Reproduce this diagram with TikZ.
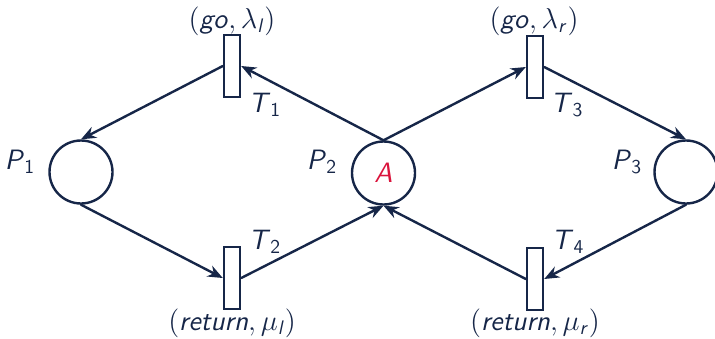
\documentclass[tikz,border=0pt]{standalone}
\usepackage{amsmath}
\usepackage{fontspec}
\usetikzlibrary{arrows.meta}
\definecolor{navy}{RGB}{22,38,72}
\definecolor{redA}{RGB}{218,20,60}
\newcommand{\mv}[1]{\textsf{\textsl{#1}}}
\newcommand{\msub}[2]{\text{\mv{#1}}_{\text{\sffamily #2}}}
\begin{document}
\begin{tikzpicture}[x=0.5pt,y=-0.5pt,
  every node/.style={text=navy, font=\fontsize{14}{16}\selectfont},
  place/.style={circle,draw=navy,line width=1.2pt,minimum size=31.5pt,inner sep=0pt},
  trans/.style={rectangle,draw=navy,line width=1.2pt,minimum width=8pt,minimum height=31pt,inner sep=0pt},
  arc/.style={draw=navy,line width=1.2pt,line cap=round,-{Stealth[length=7.5pt,width=6pt]}},
  lab/.style={inner sep=0pt}]
\useasboundingbox (0,0) rectangle (715,338);
% places
\node[place] (P1) at (81,172) {};
\node[place] (P2) at (383.5,173) {\color{redA}\mv{A}};
\node[place] (P3) at (686,172) {};
% transitions
\node[trans] (T1) at (232,66) {};
\node[trans] (T3) at (535,67) {};
\node[trans] (T2) at (232,278) {};
\node[trans] (T4) at (535,279) {};
% labels
\node[lab] (lP1) at (20,162) {$\msub{P}{1}$};
\node[lab] (lP2) at (322,162) {$\msub{P}{2}$};
\node[lab] (lP3) at (627,162) {$\msub{P}{3}$};
\node[lab] (lT1) at (265,105) {$\msub{T}{1}$};
\node[lab] (lT3) at (567,105) {$\msub{T}{3}$};
\node[lab] (lT2) at (265,242) {$\msub{T}{2}$};
\node[lab] (lT4) at (568,242) {$\msub{T}{4}$};
\node[lab] (gl) at (232,21) {$(\text{\mv{go}},\lambda_{\text{\mv{l}}})$};
\node[lab] (gr) at (534,21) {$(\text{\mv{go}},\lambda_{\text{\mv{r}}})$};
\node[lab] (rl) at (232,323) {$(\text{\mv{return}},\mu_{\text{\mv{l}}})$};
\node[lab] (rr) at (535,323) {$(\text{\mv{return}},\mu_{\text{\mv{r}}})$};
% arcs
\draw[arc] (P2.north) -- (T1.east);
\draw[arc] (T1.west) -- (P1.north);
\draw[arc] (P1.south) -- (T2.west);
\draw[arc] (T2.east) -- (P2.south);
\draw[arc] (P2.north) -- (T3.west);
\draw[arc] (T3.east) -- (P3.north);
\draw[arc] (P3.south) -- (T4.east);
\draw[arc] (T4.west) -- (P2.south);
\end{tikzpicture}
\end{document}
